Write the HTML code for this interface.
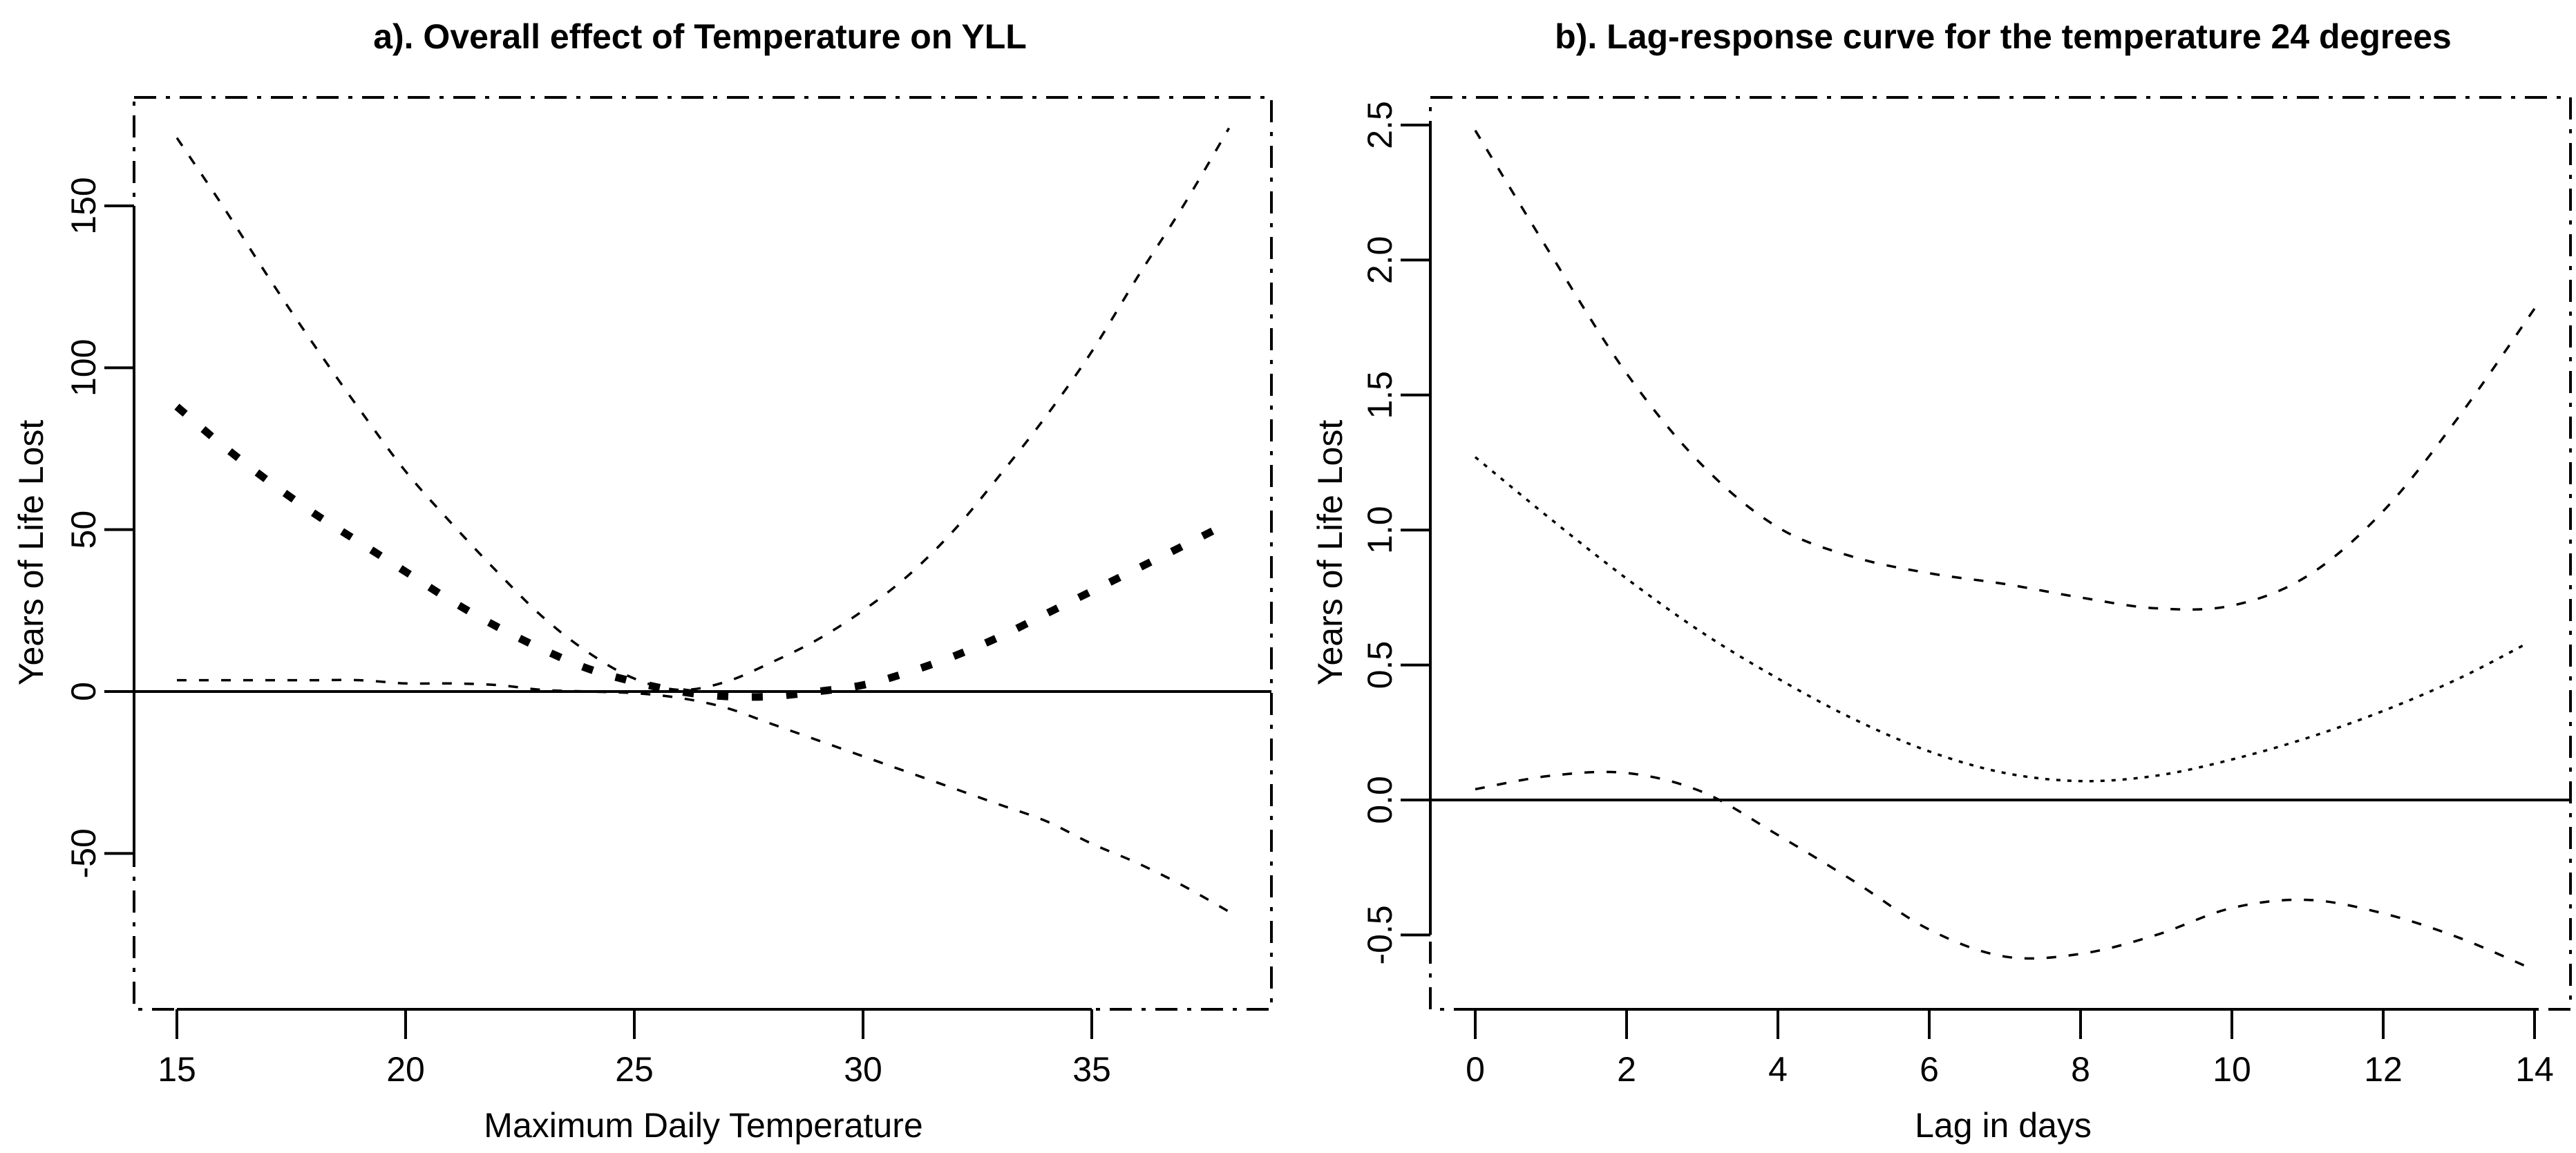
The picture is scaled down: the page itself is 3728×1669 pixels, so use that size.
<!DOCTYPE html>
<html><head><meta charset="utf-8"><style>
html,body{margin:0;padding:0;background:#fff}
svg{display:block}
text{font-family:"Liberation Sans",Arial,sans-serif;fill:#000}
</style></head><body>
<svg id="chart" width="3728" height="1669" viewBox="0 0 3728 1669" xmlns="http://www.w3.org/2000/svg">
<rect width="3728" height="1669" fill="#fff"/>
</svg>
<script>
// Panel A data
const aX = [15,16,17,18,19,20,21,22,23,24,25,26,27,28,29,30,31,32,33,34,35,36,37,38];
const aUpper = [171,150,128,107,87,68,52,37,23,12,4,0.5,3,9,16,25,36,50,67,85,105,128,150,174];
const aLower = [3.5,3.5,3.5,3.5,3.5,2.5,2.5,2,0.5,0,-0.5,-2,-5,-10,-15,-20,-25,-30,-35,-40,-47,-53,-60,-68];
const aMidX = [15,16,17,18,19,20,21,22,23,24,25,26,27,28,29,30,31,32,33,34,35,36,37,37.7];
const aMid = [88,76,65,55,46,37,28,20,13,7,3,0,-1.5,-1.5,0,2,6,11,17,24,31,38,45,50];
const aXTicks = [15,20,25,30,35];
const aYTicks = [-50,0,50,100,150];
const aYLabels = ["-50","0","50","100","150"];
// Panel B data
const bX = [0,1,2,3,4,5,6,7,8,9,10,11,12,13,14];
const bUpper = [2.48,2.02,1.58,1.24,1.01,0.9,0.84,0.8,0.75,0.71,0.72,0.83,1.07,1.42,1.82];
const bMidX = [0,1,2,3,4,5,6,7,8,9,10,11,12,13,13.9];
const bMid = [1.27,1.04,0.82,0.62,0.45,0.3,0.18,0.1,0.07,0.09,0.15,0.23,0.33,0.45,0.58];
const bLower = [0.04,0.09,0.1,0.03,-0.13,-0.3,-0.48,-0.58,-0.57,-0.5,-0.4,-0.37,-0.42,-0.51,-0.63];
const bXTicks = [0,2,4,6,8,10,12,14];
const bYTicks = [-0.5,0,0.5,1,1.5,2,2.5];
const bYLabels = ["-0.5","0.0","0.5","1.0","1.5","2.0","2.5"];

const NS="http://www.w3.org/2000/svg";
const svg=document.getElementById('chart');
function el(tag,attrs,parent){const e=document.createElementNS(NS,tag);for(const k in attrs)e.setAttribute(k,attrs[k]);(parent||svg).appendChild(e);return e;}
function linScale(d0,d1,r0,r1){return v=>r0+(v-d0)*(r1-r0)/(d1-d0);}
function smoothPath(pts){
  let d="M"+pts[0][0]+","+pts[0][1];
  for(let i=0;i<pts.length-1;i++){
    const p0=pts[i-1]||pts[i],p1=pts[i],p2=pts[i+1],p3=pts[i+2]||p2;
    const c1=[p1[0]+(p2[0]-p0[0])/6,p1[1]+(p2[1]-p0[1])/6];
    const c2=[p2[0]-(p3[0]-p1[0])/6,p2[1]-(p3[1]-p1[1])/6];
    d+=" C"+c1[0]+","+c1[1]+" "+c2[0]+","+c2[1]+" "+p2[0]+","+p2[1];
  }
  return d;
}
function drawPanel(cfg){
  const g=el('g',{});
  
  
  const sx=cfg.sx, sy=cfg.sy;
  const box=el('rect',{x:cfg.box[0],y:cfg.box[1],width:cfg.box[2]-cfg.box[0],height:cfg.box[3]-cfg.box[1],fill:'none',stroke:'#000','stroke-width':4,'stroke-dasharray':'32 14 6 14'},g);
  
  
  // x axis
  const xa=el('g',{},g);
  
  
  const xt=cfg.xTicks;
  el('line',{x1:sx(xt[0]),x2:sx(xt[xt.length-1]),y1:cfg.box[3],y2:cfg.box[3],stroke:'#000','stroke-width':4},xa);
  xt.forEach(t=>{
    el('line',{x1:sx(t),x2:sx(t),y1:cfg.box[3],y2:cfg.box[3]+43,stroke:'#000','stroke-width':4},xa);
    const tx=el('text',{x:sx(t),y:1565,'text-anchor':'middle','font-size':50},xa);
    tx.textContent=String(t);
    
    
  });
  // y axis
  const ya=el('g',{},g);
  
  
  const yt=cfg.yTicks;
  el('line',{x1:cfg.box[0],x2:cfg.box[0],y1:sy(yt[0]),y2:sy(yt[yt.length-1]),stroke:'#000','stroke-width':4},ya);
  yt.forEach((t,i)=>{
    el('line',{x1:cfg.box[0]-43,x2:cfg.box[0],y1:sy(t),y2:sy(t),stroke:'#000','stroke-width':4},ya);
    const tx=el('text',{x:0,y:0,'text-anchor':'middle','font-size':50,transform:`translate(${cfg.box[0]-56},${sy(t)}) rotate(-90)`},ya);
    tx.textContent=cfg.yLabels[i];
    
    
  });
  // zero line
  const z=el('line',{x1:cfg.box[0],x2:cfg.box[2],y1:sy(0),y2:sy(0),stroke:'#000','stroke-width':4},g);
  
  
  cfg.series.forEach(s=>{
    const pts=s.x.map((v,i)=>[sx(v),sy(s.y[i])]);
    const p=el('path',{d:smoothPath(pts),fill:'none',stroke:'#000','stroke-width':s.w,'stroke-dasharray':s.dash,'stroke-linecap':'butt'},g);
    
    
  });
  const title=el('text',{x:cfg.titleX,y:70,'text-anchor':'middle','font-size':50,'font-weight':'bold'},g);
  title.textContent=cfg.title;
  
  
  const xl=el('text',{x:cfg.xLabelX,y:1646,'text-anchor':'middle','font-size':50},g);
  xl.textContent=cfg.xLabel;
  
  
  const yl=el('text',{x:0,y:0,'text-anchor':'middle','font-size':50,transform:`translate(${cfg.yLabelX},${800}) rotate(-90)`},g);
  yl.textContent='Years of Life Lost';
  
  
}
drawPanel({
  name:'panel-a-overall-effect',
  box:[194,141,1840,1461],
  sx:linScale(15,35,256,1580), sy:linScale(0,150,1001,298),
  xTicks:aXTicks, yTicks:aYTicks, yLabels:aYLabels,
  title:'a). Overall effect of Temperature on YLL', titleX:1013,
  xLabel:'Maximum Daily Temperature', xLabelX:1018, yLabelX:62,
  series:[
    {name:'upper-ci-line',x:aX,y:aUpper,w:3.5,dash:'14 18'},
    {name:'lower-ci-line',x:aX,y:aLower,w:3.5,dash:'14 18'},
    {name:'estimate-line',x:aMidX,y:aMid,w:11,dash:'16 34'}
  ]
});
drawPanel({
  name:'panel-b-lag-response',
  box:[2070,141,3720,1461],
  sx:linScale(0,14,2135,3668), sy:linScale(0,2.5,1158,181),
  xTicks:bXTicks, yTicks:bYTicks, yLabels:bYLabels,
  title:'b). Lag-response curve for the temperature 24 degrees', titleX:2899,
  xLabel:'Lag in days', xLabelX:2899, yLabelX:1942,
  series:[
    {name:'upper-ci-line',x:bX,y:bUpper,w:3.5,dash:'14 18'},
    {name:'estimate-line',x:bMidX,y:bMid,w:3.5,dash:'6 10'},
    {name:'lower-ci-line',x:bX,y:bLower,w:3.5,dash:'14 18'}
  ]
});
</script>
</body></html>
